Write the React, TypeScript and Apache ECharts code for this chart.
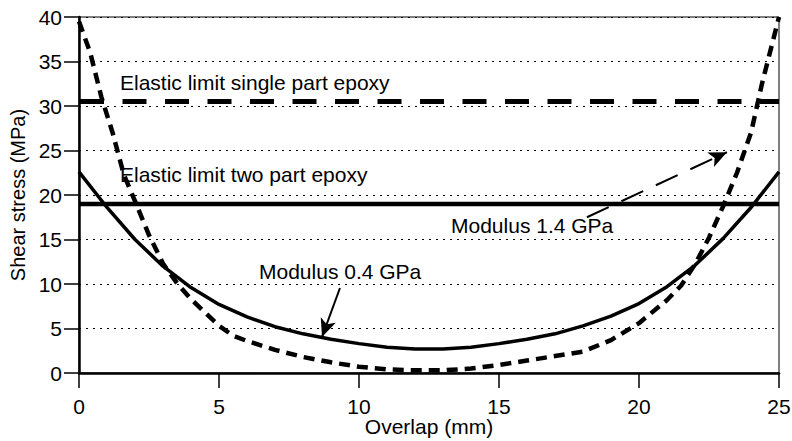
import React, { useEffect, useRef } from "react";
import * as echarts from "echarts";

const FONT = "'Liberation Sans', Arial, Helvetica, sans-serif";

const xTicks = [0, 5, 10, 15, 20, 25];
const yTicks = [0, 5, 10, 15, 20, 25, 30, 35, 40];

// Modulus 0.4 GPa (solid curve)
const mod04X = [0, 1, 2, 3, 4, 5, 6, 7, 8, 9, 10, 11, 12, 13, 14, 15, 16, 17, 18, 19, 20, 21, 22, 23, 24, 25];
const mod04Y = [22.6, 18.6, 15.0, 12.0, 9.6, 7.7, 6.3, 5.2, 4.4, 3.8, 3.3, 2.9, 2.7, 2.7, 2.9, 3.3, 3.8, 4.4, 5.3, 6.4, 7.8, 9.7, 12.1, 15.1, 18.6, 22.6];

// Modulus 1.4 GPa (dashed curve)
const mod14X = [0, 0.4, 0.8, 1.2, 1.6, 2, 2.5, 3, 3.5, 4, 4.5, 5, 5.5, 6, 7, 8, 9, 10, 11, 12, 13, 14, 15, 16, 17, 18, 19, 20, 21, 21.5, 22, 22.5, 23, 23.5, 24, 24.4, 24.7, 25];
const mod14Y = [39.5, 36.0, 31.0, 27.0, 22.3, 19.3, 15.5, 12.3, 10.1, 8.3, 6.8, 5.3, 4.2, 3.6, 2.6, 1.8, 1.2, 0.7, 0.4, 0.3, 0.3, 0.5, 0.9, 1.4, 1.9, 2.4, 3.7, 5.6, 8.2, 9.8, 12.2, 15.2, 18.7, 22.5, 27.0, 32.6, 36.3, 40.0];

// Elastic limits
const singlePartLimit = 30.5;
const twoPartLimit = 19;

// Annotation arrows [from, to] in data coordinates
const arrow14 = [[18.14, 17.5], [23.14, 24.8]];
const arrow04 = [[9.32, 9.55], [8.68, 4.05]];

const xAxisName = "Overlap (mm)";
const yAxisName = "Shear stress (MPa)";

export default function App() {
  const ref = useRef<HTMLDivElement>(null);
  useEffect(() => {
    if (!ref.current) return;
    const chart = echarts.init(ref.current, undefined, { renderer: "svg" });
    const zip = (xs: number[], ys: number[]) => xs.map((x, i) => [x, ys[i]]);
    const textStyle = { fill: "#000", fontSize: 21, fontFamily: FONT };
    chart.setOption({
      animation: false,
      backgroundColor: "#fff",
      grid: {
        left: 79, right: 13, top: 17, bottom: 68,
        containLabel: false, outerBoundsMode: "none",
        show: true, borderColor: "#000", borderWidth: 1, backgroundColor: "transparent",
      },
      xAxis: {
        type: "value",
        min: 0,
        max: 25,
        interval: 5,
        axisLine: { show: true, onZero: false, lineStyle: { color: "#000", width: 2.5 } },
        axisTick: { show: true, length: 15, inside: false, lineStyle: { color: "#000", width: 1.5 } },
        axisLabel: { color: "#000", fontSize: 21, fontFamily: FONT, margin: 23 },
        splitLine: { show: false },
      },
      yAxis: {
        type: "value",
        min: 0,
        max: 40,
        interval: 5,
        name: yAxisName,
        nameLocation: "middle",
        nameGap: 50,
        nameTextStyle: { color: "#000", fontSize: 20, fontFamily: FONT },
        axisLine: { show: true, onZero: false, lineStyle: { color: "#000", width: 2.5 } },
        axisTick: { show: true, length: 15, inside: false, lineStyle: { color: "#000", width: 1.5 } },
        axisLabel: { color: "#000", fontSize: 21, fontFamily: FONT, margin: 17 },
        splitLine: { show: true, lineStyle: { color: "#000", width: 1.2, type: [2, 5] } },
      },
      series: [
        {
          type: "line",
          data: [[0, singlePartLimit], [25, singlePartLimit]],
          symbol: "none",
          lineStyle: { color: "#000", width: 5, type: [24, 18.5], dashOffset: -1.5, cap: "butt" },
          z: 3,
        },
        {
          type: "line",
          data: [[0, twoPartLimit], [25, twoPartLimit]],
          symbol: "none",
          lineStyle: { color: "#000", width: 4.5 },
          z: 3,
        },
        {
          type: "line",
          data: zip(mod04X, mod04Y),
          symbol: "none",
          lineStyle: { color: "#000", width: 3.5 },
          z: 4,
          markLine: {
            silent: true,
            symbol: ["none", "arrow"],
            symbolSize: [12, 18],
            label: { show: false },
            lineStyle: { color: "#000", width: 2, type: "solid" },
            data: [[{ coord: arrow04[0] }, { coord: arrow04[1] }]],
          },
        },
        {
          type: "line",
          data: zip(mod14X, mod14Y),
          symbol: "none",
          lineStyle: { color: "#000", width: 4.5, type: [11, 7], cap: "butt" },
          z: 4,
          markLine: {
            silent: true,
            symbol: ["none", "arrow"],
            symbolSize: [12, 18],
            label: { show: false },
            lineStyle: { color: "#000", width: 2, type: [24, 14] },
            data: [[{ coord: arrow14[0] }, { coord: arrow14[1] }]],
          },
        },
      ],
      graphic: [
        { type: "text", left: 120, top: 72, style: { ...textStyle, text: "Elastic limit single part epoxy" } },
        { type: "text", left: 120, top: 164, style: { ...textStyle, text: "Elastic limit two part epoxy" } },
        { type: "text", left: 451, top: 215, style: { ...textStyle, text: "Modulus 1.4 GPa" } },
        { type: "text", left: 259, top: 261, style: { ...textStyle, text: "Modulus 0.4 GPa" } },
        { type: "text", x: 429, y: 416, style: { ...textStyle, text: xAxisName, align: "center", verticalAlign: "top" } },
      ],
    });
    return () => chart.dispose();
  }, []);
  return <div ref={ref} style={{ position: "fixed", left: 0, top: 0, width: 792, height: 441, background: "#fff" }} />;
}
